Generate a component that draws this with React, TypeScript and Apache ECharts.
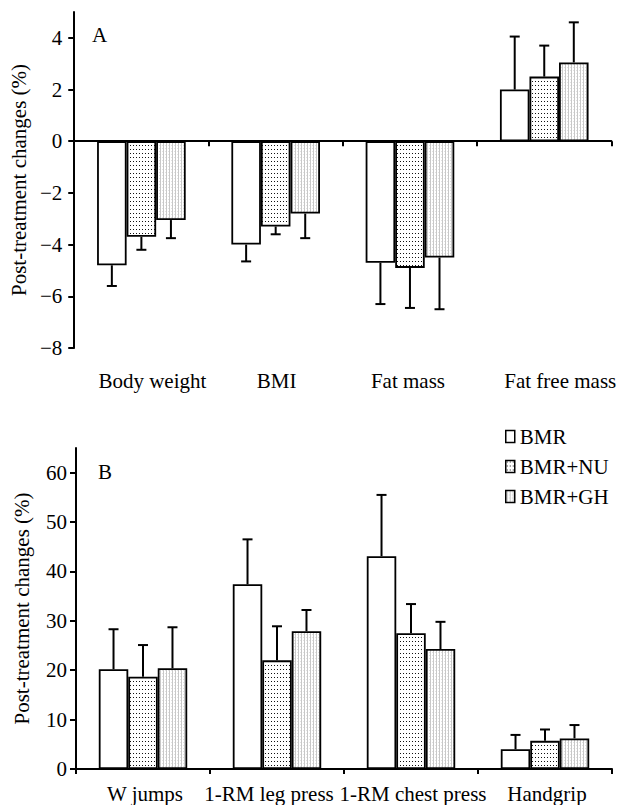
import React, { useEffect, useRef } from "react";
import * as echarts from "echarts";

const categoriesA = ["Body weight", "BMI", "Fat mass", "Fat free mass"];
const bmrA = [-4.8, -4.0, -4.7, 2.0];
const nuA = [-3.7, -3.3, -4.9, 2.5];
const ghA = [-3.05, -2.8, -4.5, 3.05];
const bmrASd = [0.8, 0.65, 1.6, 2.05];
const nuASd = [0.5, 0.3, 1.55, 1.2];
const ghASd = [0.7, 0.95, 2.0, 1.55];
const yTicksA = [-8, -6, -4, -2, 0, 2, 4];

const categoriesB = ["W jumps", "1-RM leg press", "1-RM chest press", "Handgrip"];
const bmrB = [20.2, 37.4, 43.1, 4.0];
const nuB = [18.7, 22.0, 27.5, 5.7];
const ghB = [20.4, 27.9, 24.3, 6.2];
const bmrBSd = [8.1, 9.1, 12.4, 2.9];
const nuBSd = [6.4, 6.9, 5.9, 2.3];
const ghBSd = [8.3, 4.3, 5.5, 2.7];
const yTicksB = [0, 10, 20, 30, 40, 50, 60];

const seriesNames = ["BMR", "BMR+NU", "BMR+GH"];
const labelShiftA = [11, 1, -2, 16];
const labelShiftB = [2, -8, 2, 2];

const FONT = "Liberation Serif";
const FS = 21;
const BAR_FRAC = 0.22;

function makePattern(kind: string) {
  const c = document.createElement("canvas");
  if (kind === "nu") {
    c.width = 3;
    c.height = 4;
    const ctx = c.getContext("2d")!;
    ctx.fillStyle = "#fff";
    ctx.fillRect(0, 0, 3, 4);
    ctx.fillStyle = "#111";
    ctx.fillRect(1, 1, 1, 1);
  } else {
    c.width = 3;
    c.height = 3;
    const ctx = c.getContext("2d")!;
    ctx.fillStyle = "#ffffff";
    ctx.fillRect(0, 0, 3, 3);
    ctx.fillStyle = "#c8c8c8";
    ctx.fillRect(1, 0, 1, 3);
    ctx.fillStyle = "#e2e2e2";
    ctx.fillRect(0, 1, 1, 1);
  }
  return { image: c, repeat: "repeat", imageWidth: c.width, imageHeight: c.height } as any;
}

export default function App() {
  const ref = useRef<HTMLDivElement>(null);
  useEffect(() => {
    const chart = echarts.init(ref.current!, null, { renderer: "svg" });
    const fills = ["#ffffff", makePattern("nu"), makePattern("gh")];

    const richFor = (shifts: number[]) => {
      const rich: any = {};
      shifts.forEach((s, i) => {
        rich["c" + i] = {
          fontFamily: FONT,
          fontSize: FS,
          color: "#000",
          padding: s >= 0 ? [0, 0, 0, 2 * s] : [0, -2 * s, 0, 0],
        };
      });
      return rich;
    };

    const barSeries = (vals: number[], idx: number, axisIdx: number, yIdx: number) => ({
      type: "bar",
      name: seriesNames[idx],
      xAxisIndex: axisIdx,
      yAxisIndex: yIdx,
      data: vals,
      barWidth: BAR_FRAC * 100 + "%",
      barGap: "0%",
      itemStyle: { color: fills[idx], borderColor: "#000", borderWidth: 1.8 },
      z: 2,
    });

    const errSeries = (vals: number[], sds: number[], idx: number, axisIdx: number, yIdx: number) => ({
      type: "custom",
      xAxisIndex: axisIdx,
      yAxisIndex: yIdx,
      z: 3,
      data: vals.map((v, i) => [i, v, v >= 0 ? v + sds[i] : v - sds[i]]),
      renderItem: (params: any, api: any) => {
        const ci = api.value(0);
        const v = api.value(1);
        const e = api.value(2);
        const bw = api.size([1, 0])[0] * BAR_FRAC;
        const off = (idx - 1) * bw;
        const p0 = api.coord([ci, v]);
        const p1 = api.coord([ci, e]);
        const x = p0[0] + off;
        return {
          type: "group",
          children: [
            { type: "line", shape: { x1: x, y1: p0[1], x2: x, y2: p1[1] }, style: { stroke: "#000", lineWidth: 2 } },
            { type: "line", shape: { x1: x - 5, y1: p1[1], x2: x + 5, y2: p1[1] }, style: { stroke: "#000", lineWidth: 2 } },
          ],
        };
      },
    });

    const yLabelFmt = (v: number) => String(v).replace("-", "\u2212");

    const option: any = {
      animation: false,
      backgroundColor: "#fff",
      textStyle: { fontFamily: FONT, color: "#000" },
      grid: [
        { left: 73, right: 7, top: 12, height: 336 },
        { left: 76, right: 7, top: 448, height: 321 },
      ],
      legend: {
        orient: "vertical",
        left: 500,
        top: 421,
        itemWidth: 9,
        itemHeight: 12,
        itemGap: 9,
        icon: "rect",
        data: seriesNames,
        itemStyle: { borderColor: "#000", borderWidth: 1.5 },
        textStyle: { fontFamily: FONT, fontSize: FS, color: "#000", lineHeight: 21 },
        selectedMode: false,
      },
      xAxis: [
        {
          type: "category",
          gridIndex: 0,
          data: categoriesA,
          position: "bottom",
          axisLine: { onZero: true, lineStyle: { color: "#000", width: 2 } },
          axisTick: { show: true, length: 5, lineStyle: { color: "#000", width: 2 } },
          axisLabel: { show: false },
        },
        {
          type: "category",
          gridIndex: 0,
          data: categoriesA,
          position: "bottom",
          axisLine: { show: false, onZero: false },
          axisTick: { show: false },
          axisLabel: {
            interval: 0,
            margin: 22,
            fontFamily: FONT,
            fontSize: FS,
            color: "#000",
            formatter: (v: string) => `{c${categoriesA.indexOf(v)}|${v}}`,
            rich: richFor(labelShiftA),
          },
        },
        {
          type: "category",
          gridIndex: 1,
          data: categoriesB,
          position: "bottom",
          axisLine: { onZero: true, lineStyle: { color: "#000", width: 2 } },
          axisTick: { show: true, length: 5, lineStyle: { color: "#000", width: 2 } },
          axisLabel: {
            interval: 0,
            margin: 14,
            fontFamily: FONT,
            fontSize: FS,
            color: "#000",
            formatter: (v: string) => `{c${categoriesB.indexOf(v)}|${v}}`,
            rich: richFor(labelShiftB),
          },
        },
      ],
      yAxis: [
        {
          type: "value",
          gridIndex: 0,
          min: -8,
          max: 5,
          interval: 2,
          name: "Post-treatment changes (%)",
          nameLocation: "middle",
          nameGap: 45,
          nameTextStyle: { fontFamily: FONT, fontSize: FS, color: "#000" },
          splitLine: { show: false },
          axisLine: { show: true, lineStyle: { color: "#000", width: 2 } },
          axisTick: { show: true, length: 6, customValues: yTicksA, lineStyle: { color: "#000", width: 2 } },
          axisLabel: {
            customValues: yTicksA,
            margin: 12,
            fontFamily: FONT,
            fontSize: FS,
            color: "#000",
            formatter: yLabelFmt,
          },
        },
        {
          type: "value",
          gridIndex: 1,
          min: 0,
          max: 65,
          interval: 10,
          name: "Post-treatment changes (%)",
          nameLocation: "middle",
          nameGap: 44,
          nameTextStyle: { fontFamily: FONT, fontSize: FS, color: "#000" },
          splitLine: { show: false },
          axisLine: { show: true, lineStyle: { color: "#000", width: 2 } },
          axisTick: { show: true, length: 6, customValues: yTicksB, lineStyle: { color: "#000", width: 2 } },
          axisLabel: {
            customValues: yTicksB,
            margin: 9,
            fontFamily: FONT,
            fontSize: FS,
            color: "#000",
            formatter: yLabelFmt,
          },
        },
      ],
      graphic: [
        { type: "text", left: 92, top: 24, style: { text: "A", fontFamily: FONT, fontSize: FS, fill: "#000" } },
        { type: "text", left: 98, top: 461, style: { text: "B", fontFamily: FONT, fontSize: FS, fill: "#000" } },
      ],
      series: [
        barSeries(bmrA, 0, 0, 0),
        barSeries(nuA, 1, 0, 0),
        barSeries(ghA, 2, 0, 0),
        errSeries(bmrA, bmrASd, 0, 0, 0),
        errSeries(nuA, nuASd, 1, 0, 0),
        errSeries(ghA, ghASd, 2, 0, 0),
        barSeries(bmrB, 0, 2, 1),
        barSeries(nuB, 1, 2, 1),
        barSeries(ghB, 2, 2, 1),
        errSeries(bmrB, bmrBSd, 0, 2, 1),
        errSeries(nuB, nuBSd, 1, 2, 1),
        errSeries(ghB, ghBSd, 2, 2, 1),
      ],
    };
    chart.setOption(option);
    return () => chart.dispose();
  }, []);
  return (
    <div
      ref={ref}
      style={{ position: "absolute", left: 0, top: 0, width: 619, height: 805 }}
    />
  );
}
